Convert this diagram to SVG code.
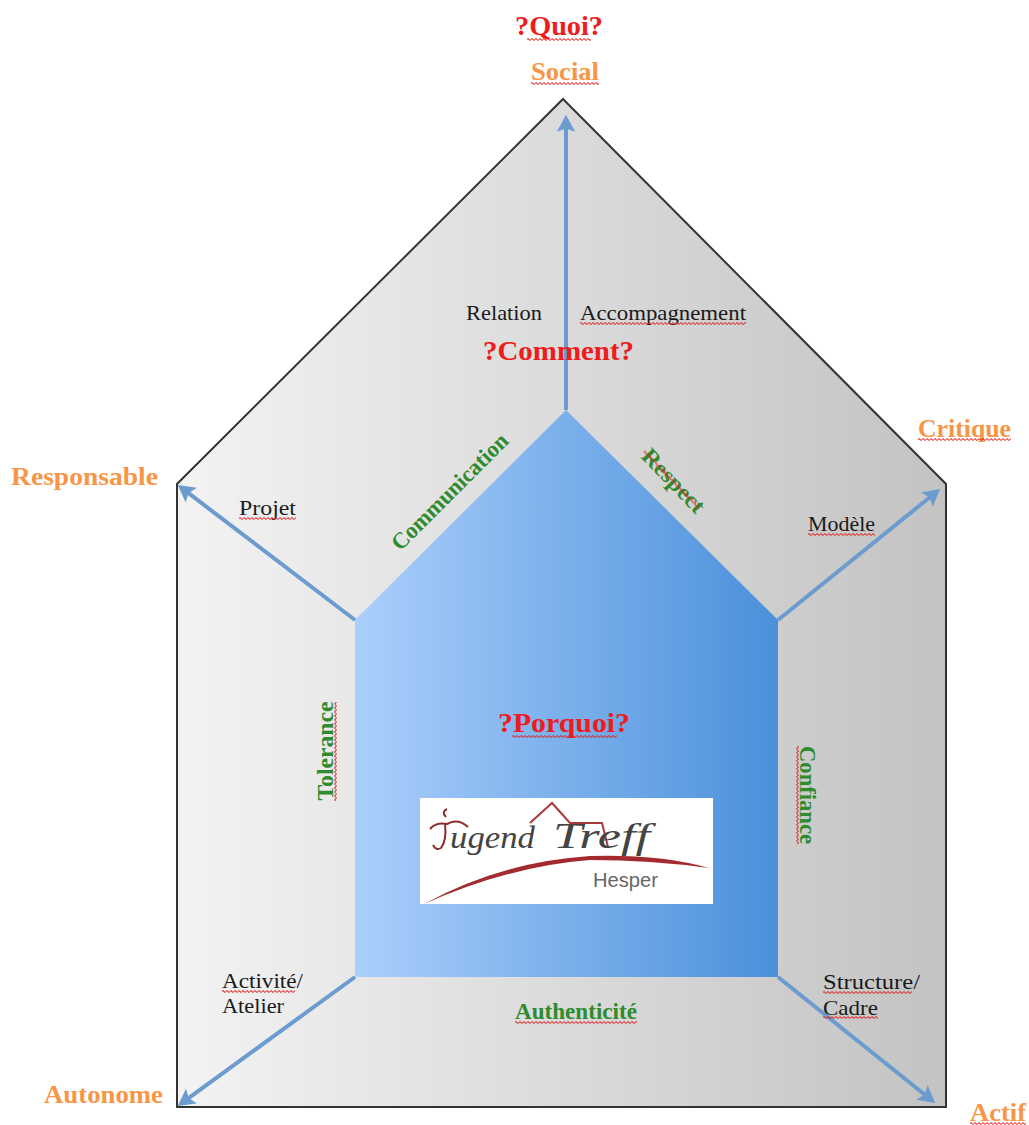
<svg xmlns="http://www.w3.org/2000/svg" width="1029" height="1125" viewBox="0 0 1029 1125">
<style>
text{font-family:"Liberation Serif","DejaVu Serif",serif}
.o{font-size:26px;font-weight:bold;fill:#f79646}
.r{font-weight:bold;fill:#ee1c1c;font-size:28px}
.k{font-size:22px;fill:#1a1a1a}
.g{font-size:23px;font-weight:bold;fill:#2e8b2e}
.a{fill:none;stroke:#6c9bd0;stroke-width:4;marker-end:url(#ah)}
.s{fill:url(#sq)}
</style>
<defs>
<linearGradient id="og" x1="0" x2="1" y1="0" y2="0"><stop offset="0" stop-color="#f3f3f3"/><stop offset="1" stop-color="#c3c3c3"/></linearGradient>
<linearGradient id="ig" x1="0" x2="1" y1="0" y2="0"><stop offset="0" stop-color="#abcffc"/><stop offset="1" stop-color="#4a90da"/></linearGradient>
<marker id="ah" markerWidth="6" markerHeight="5" refX="5" refY="2.5" orient="auto" markerUnits="strokeWidth"><path d="M1.8 .2L6 2.5L1.8 4.8L2.6 2.5Z" fill="#6c9bd0"/></marker>
<pattern id="sq" patternUnits="userSpaceOnUse" width="4" height="3"><path d="M0 1.5Q1 0 2 1.5T4 1.5" fill="none" stroke="#e02020" stroke-width="1.1"/></pattern>
</defs>
<g id="outer-house"><path d="M563 99L946 484V1107H177V484Z" fill="url(#og)" stroke="#333" stroke-width="2"/></g>
<g id="inner-house"><path d="M566 410L778 620V977H355V620Z" fill="url(#ig)"/></g>
<g id="connectors">
<path class="a" d="M566 410V119"/>
<path class="a" d="M355 620L181 487.4"/>
<path class="a" d="M778 620L937 491.5"/>
<path class="a" d="M355 977L181 1103.6"/>
<path class="a" d="M778 977L932 1100.5"/>
</g>
<g id="logo">
<rect x="420" y="798" width="293" height="106" fill="#fff"/>
<path d="M424 904Q500 862 590 856Q660 854 709 868Q650 860 590 860Q510 866 424 904Z" fill="#a32a2e"/>
<path d="M530 823L552 803L570 823H602L608 847" fill="none" stroke="#a83a3a" stroke-width="2"/>
<path d="M447 809Q441 812 446 817M430 829Q436 822 447 824Q458 818 468 827M445 824Q447 840 441 848Q436 851 433 845" fill="none" stroke="#8c2b2b" stroke-width="2"/>
<text x="450" y="848" font-size="32" font-style="italic" fill="#444" textLength="85" lengthAdjust="spacingAndGlyphs">ugend</text>
<text x="553" y="848" font-size="36" font-style="italic" fill="#444" textLength="97" lengthAdjust="spacingAndGlyphs">Treff</text>
<text x="593" y="887" style="font-family:'Liberation Sans',sans-serif" font-size="20" fill="#666" textLength="65" lengthAdjust="spacingAndGlyphs">Hesper</text>
</g>
<g id="labels">
<text class="r" x="515" y="35" textLength="88" lengthAdjust="spacingAndGlyphs">?Quoi?</text>
<text class="o" x="531" y="80" textLength="68" lengthAdjust="spacingAndGlyphs">Social</text>
<text class="o" x="918" y="437" textLength="93" lengthAdjust="spacingAndGlyphs">Critique</text>
<text class="o" x="11" y="485" textLength="147" lengthAdjust="spacingAndGlyphs">Responsable</text>
<text class="o" x="44" y="1103" textLength="119" lengthAdjust="spacingAndGlyphs">Autonome</text>
<text class="o" x="970" y="1121" textLength="56" lengthAdjust="spacingAndGlyphs">Actif</text>
<text class="k" x="466" y="320" textLength="76" lengthAdjust="spacingAndGlyphs">Relation</text>
<text class="k" x="580" y="320" textLength="166" lengthAdjust="spacingAndGlyphs">Accompagnement</text>
<text class="r" x="483" y="360" textLength="151" lengthAdjust="spacingAndGlyphs">?Comment?</text>
<text class="k" x="239" y="515" textLength="57" lengthAdjust="spacingAndGlyphs">Projet</text>
<text class="k" x="808" y="531" textLength="67" lengthAdjust="spacingAndGlyphs">Modèle</text>
<text class="k" x="222" y="988" textLength="81" lengthAdjust="spacingAndGlyphs">Activité/</text>
<text class="k" x="222" y="1013" textLength="62" lengthAdjust="spacingAndGlyphs">Atelier</text>
<text class="k" x="823" y="989" textLength="97" lengthAdjust="spacingAndGlyphs">Structure/</text>
<text class="k" x="823" y="1015" textLength="55" lengthAdjust="spacingAndGlyphs">Cadre</text>
<text class="r" x="498" y="732" textLength="132" lengthAdjust="spacingAndGlyphs">?Porquoi?</text>
<text class="g" x="515" y="1019" textLength="122" lengthAdjust="spacingAndGlyphs">Authenticité</text>
<text class="g" transform="translate(455 497) rotate(-45)" text-anchor="middle" textLength="155" lengthAdjust="spacingAndGlyphs">Communication</text>
<text class="g" transform="translate(668 486) rotate(46)" text-anchor="middle" textLength="80" lengthAdjust="spacingAndGlyphs">Respect</text>
<text class="g" transform="translate(333 751) rotate(-90)" text-anchor="middle" textLength="99" lengthAdjust="spacingAndGlyphs">Tolerance</text>
<text class="g" transform="translate(800 795) rotate(90)" text-anchor="middle" textLength="98" lengthAdjust="spacingAndGlyphs">Confiance</text>
</g>
<g id="spell-marks">
<rect class="s" transform="translate(527 38)" width="64" height="3"/>
<rect class="s" transform="translate(531 82)" width="68" height="3"/>
<rect class="s" transform="translate(918 438)" width="93" height="3"/>
<rect class="s" transform="translate(970 1122)" width="56" height="3"/>
<rect class="s" transform="translate(580 322)" width="166" height="3"/>
<rect class="s" transform="translate(239 517)" width="57" height="3"/>
<rect class="s" transform="translate(808 533)" width="67" height="3"/>
<rect class="s" transform="translate(222 990)" width="73" height="3"/>
<rect class="s" transform="translate(823 991)" width="89" height="3"/>
<rect class="s" transform="translate(823 1016)" width="55" height="3"/>
<rect class="s" transform="translate(515 1021)" width="122" height="3"/>
<rect class="s" transform="translate(512 735)" width="105" height="3"/>
<rect class="s" transform="translate(334 801) rotate(-90)" width="99" height="3"/>
<rect class="s" transform="translate(799 746) rotate(90)" width="98" height="3"/>
<rect class="s" transform="translate(645 450) rotate(46)" width="80" height="3"/>
</g>
</svg>
